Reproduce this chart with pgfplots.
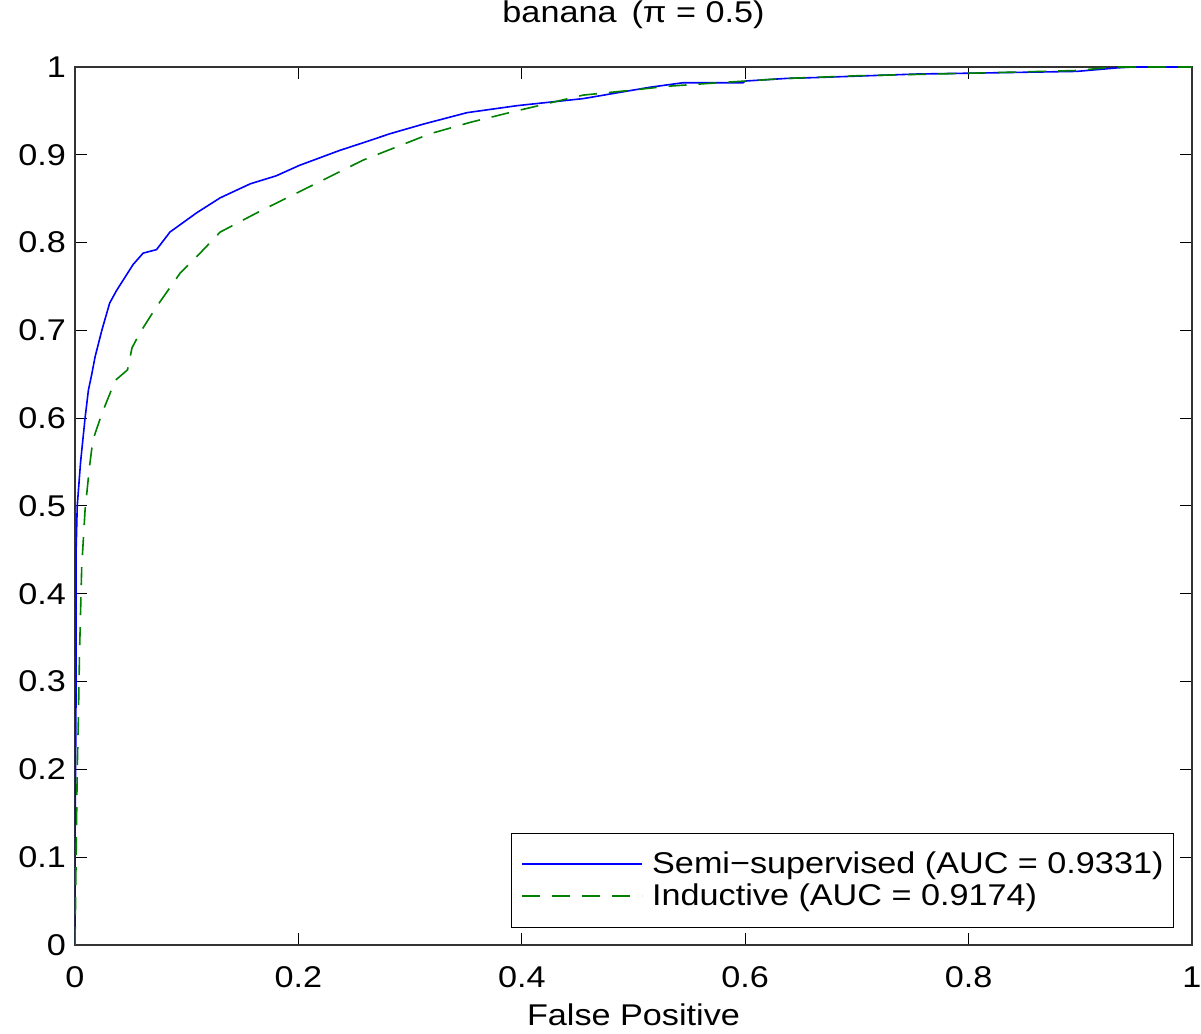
\documentclass[border=0pt]{standalone}
\usepackage{fontspec}
\setmainfont{Liberation Sans}
\usepackage{graphicx}
\usepackage{pgfplots}
\pgfplotsset{compat=1.18}
\definecolor{mgreen}{RGB}{0,128,0}
\newcommand{\s}[1]{\scalebox{1.14}[1]{#1}}
\begin{document}
\begin{tikzpicture}[font=\fontsize{15}{18}\selectfont]
\begin{axis}[
  scale only axis, width=558.5pt, height=439pt,
  xmin=0, xmax=1, ymin=0, ymax=1,
  xtick={0,0.2,0.4,0.6,0.8,1},
  xticklabels={\s{0},\s{0.2},\s{0.4},\s{0.6},\s{0.8},\s{1}},
  ytick={0,0.1,0.2,0.3,0.4,0.5,0.6,0.7,0.8,0.9,1},
  yticklabels={\s{0},\s{0.1},\s{0.2},\s{0.3},\s{0.4},\s{0.5},\s{0.6},\s{0.7},\s{0.8},\s{0.9},\s{1}},
  tick align=inside, major tick length=6pt,
  tick style={black, line width=0.5pt},
  axis line style={black!80, line width=0.8pt},
  xticklabel style={anchor=base, yshift=-21pt, font=\fontsize{15}{18}\selectfont},
  yticklabel style={anchor=east, xshift=-1pt, font=\fontsize{15}{18}\selectfont},
  title={\s{banana\hspace{6.6pt}(π = 0.5)}},
  title style={at={(0.5,1)}, anchor=base, yshift=16pt, font=\fontsize{15}{18}\selectfont},
  xlabel={\s{False Positive}},
  xlabel style={at={(0.5,0)}, anchor=base, yshift=-40pt, font=\fontsize{15}{18}\selectfont},
  legend cell align=left,
  legend style={at={(0.984,0.0194)}, anchor=south east, draw=black, line width=0.6pt,
    inner xsep=5pt, inner ysep=7.5pt, column sep=4.5pt, font=\fontsize{15}{18}\selectfont,
    nodes={inner xsep=0pt, inner ysep=1.8pt}},
  legend image code/.code={\draw[#1, line width=1pt] (0pt,0pt) -- (60pt,0pt);},
]
\addplot[blue, line width=0.8pt] coordinates {
(0,0) (0,0.10) (0.001,0.30) (0.001,0.45) (0.002,0.50) (0.005,0.55) (0.009,0.60)
(0.012,0.632) (0.015,0.65) (0.018,0.67) (0.024,0.70) (0.031,0.731) (0.037,0.745) (0.043,0.757)
(0.052,0.775) (0.061,0.788) (0.073,0.792) (0.085,0.812) (0.097,0.823) (0.109,0.834)
(0.130,0.851) (0.157,0.867) (0.18,0.876) (0.201,0.888) (0.237,0.905) (0.261,0.915)
(0.282,0.924) (0.312,0.935) (0.351,0.948) (0.396,0.956) (0.455,0.964) (0.515,0.977)
(0.544,0.982) (0.598,0.982) (0.600,0.984) (0.637,0.987) (0.664,0.988) (0.754,0.992)
(0.804,0.993) (0.897,0.995) (0.933,0.999) (0.947,1) (1,1)
};
\addlegendentry{\s{Semi−supervised (AUC = 0.9331)}}
\addplot[mgreen, line width=0.8pt, dash pattern=on 9pt off 6pt] coordinates {
(0,0) (0.001,0.10) (0.002,0.20) (0.003,0.256) (0.004,0.33) (0.006,0.43) (0.009,0.495)
(0.013,0.545) (0.016,0.575) (0.024,0.605) (0.036,0.643) (0.047,0.655) (0.051,0.68) (0.058,0.697)
(0.073,0.727) (0.094,0.765) (0.112,0.788) (0.130,0.812) (0.166,0.836) (0.201,0.858)
(0.228,0.875) (0.258,0.894) (0.288,0.909) (0.318,0.924) (0.354,0.937) (0.392,0.949)
(0.425,0.959) (0.455,0.968) (0.494,0.973) (0.530,0.978) (0.575,0.982) (0.600,0.984)
(0.637,0.987) (0.70,0.990) (0.804,0.993) (0.897,0.996) (0.93,1) (1,1)
};
\addlegendentry{\s{Inductive (AUC = 0.9174)}}
\end{axis}
\pgfresetboundingbox
\useasboundingbox ([xshift=-37.5pt,yshift=-44.5pt]current axis.south west) rectangle ([xshift=4.5pt,yshift=33.5pt]current axis.north east);
\end{tikzpicture}
\end{document}
